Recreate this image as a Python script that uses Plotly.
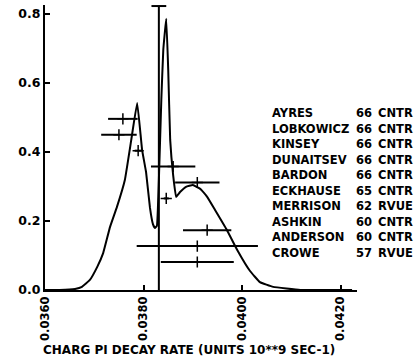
import plotly.graph_objects as go

# ---- data ----
names = ["AYRES", "LOBKOWICZ", "KINSEY", "DUNAITSEV", "BARDON",
         "ECKHAUSE", "MERRISON", "ASHKIN", "ANDERSON", "CROWE"]
years = ["66", "66", "66", "66", "66", "65", "62", "60", "60", "57"]
docs = ["CNTR", "CNTR", "CNTR", "CNTR", "CNTR", "CNTR", "RVUE", "CNTR", "CNTR", "RVUE"]
values = [0.03758, 0.03750, 0.03789, 0.03860, 0.03909, 0.03846, None, 0.03929, 0.03909, 0.03909]
errors = [0.00030, 0.00036, 0.00007, 0.00045, 0.00045, 0.00005, None, 0.00049, 0.00123, 0.00074]

average = 0.03831
average_top = 0.823

ideogram_x = [0.03600, 0.03630, 0.03661, 0.03675, 0.03691, 0.03706, 0.03718, 0.03732,
              0.03746, 0.03762, 0.03775, 0.03787, 0.03797, 0.03805, 0.03813, 0.03819,
              0.03823, 0.03827, 0.03831, 0.03836, 0.03840, 0.03846, 0.03850, 0.03854,
              0.03860, 0.03866, 0.03874, 0.03886, 0.03900, 0.03915, 0.03929, 0.03945,
              0.03969, 0.03990, 0.04016, 0.04036, 0.04063, 0.04118, 0.04199, 0.04223]
ideogram_y = [0.000, 0.000, 0.003, 0.009, 0.029, 0.067, 0.107, 0.183,
              0.241, 0.319, 0.435, 0.542, 0.406, 0.342, 0.238, 0.191,
              0.180, 0.186, 0.319, 0.551, 0.696, 0.786, 0.638, 0.435,
              0.333, 0.270, 0.284, 0.299, 0.304, 0.293, 0.270, 0.232,
              0.174, 0.116, 0.055, 0.023, 0.009, 0.000, 0.000, 0.000]

x_ticks = [0.0360, 0.0380, 0.0400, 0.0420]
y_ticks = [0.0, 0.2, 0.4, 0.6, 0.8]
x_title = "CHARG PI DECAY RATE (UNITS 10**9 SEC-1)"

# ---- layout constants ----
W, H = 414, 359
ML, MR, MT, MB = 45, 57, 5, 69
XR = [0.0360, 0.04233]
YR = [0.0, 0.826]
row_top = 0.496
row_step = 0.0461
cap_half = 0.00015
FONT = "DejaVu Sans"

row_y = [row_top - i * row_step for i in range(len(names))]

fig = go.Figure()

# ideogram curve
fig.add_trace(go.Scatter(x=ideogram_x, y=ideogram_y, mode="lines",
                         line=dict(color="black", width=2, shape="spline", smoothing=0.3),
                         hoverinfo="skip"))

# average line with cap
fig.add_trace(go.Scatter(x=[average, average, None, average - cap_half, average + cap_half],
                         y=[0, average_top, None, average_top, average_top],
                         mode="lines", line=dict(color="black", width=2), hoverinfo="skip"))

# measurements
fig.add_trace(go.Scatter(x=values, y=row_y, mode="markers",
                         marker=dict(symbol="cross-thin", size=8, color="black",
                                     line=dict(color="black", width=1.5)),
                         error_x=dict(type="data", array=errors, width=0,
                                      thickness=2, color="black")))

pw = W - ML - MR
ph = H - MT - MB


def px_x(px):
    return (px - ML) / pw


def px_y(py):
    return (H - MB - py) / ph


# legend-like text
for i, (n, yr, d) in enumerate(zip(names, years, docs)):
    py = 113 + 15.5 * i
    for txt, px in ((n, 270), (yr, 354), (d, 376)):
        fig.add_annotation(text=txt, x=px_x(px), y=px_y(py), xref="paper", yref="paper",
                           xanchor="left", yanchor="middle", showarrow=False,
                           font=dict(family=FONT, size=11.5, color="black", weight="bold"))

# x axis title
fig.add_annotation(text=x_title, x=px_x(189), y=px_y(350), xref="paper", yref="paper",
                   xanchor="center", yanchor="middle", showarrow=False,
                   font=dict(family=FONT, size=12, color="black", weight="bold"))

fig.update_layout(
    width=W, height=H,
    margin=dict(l=ML, r=MR, t=MT, b=MB, pad=0),
    paper_bgcolor="white", plot_bgcolor="white",
    showlegend=False,
    font=dict(family=FONT, size=12, color="black", weight="bold"),
    xaxis=dict(range=XR, tickvals=x_ticks, tickformat=".4f", tickangle=-90,
               ticks="inside", ticklen=5, tickwidth=1.5, tickcolor="black",
               showline=True, linecolor="black", linewidth=2,
               showgrid=False, zeroline=False,
               tickfont=dict(family=FONT, size=11.5, color="black", weight="bold")),
    yaxis=dict(range=YR, tickvals=y_ticks, tickformat=".1f",
               ticks="inside", ticklen=5, tickwidth=1.5, tickcolor="black",
               showline=True, linecolor="black", linewidth=2,
               showgrid=False, zeroline=False,
               tickfont=dict(family=FONT, size=12.5, color="black", weight="bold")),
)

fig.write_html("out.html")
